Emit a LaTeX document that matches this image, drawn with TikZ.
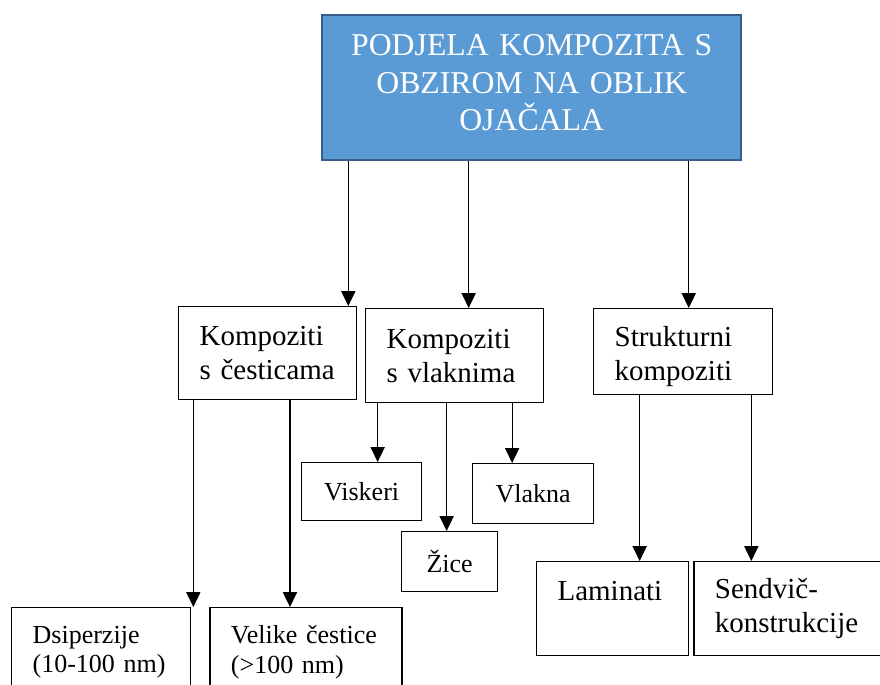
\documentclass[tikz,border=0pt]{standalone}
\usepackage{fontspec}
\setmainfont{Liberation Serif}
\usetikzlibrary{positioning,arrows.meta}
\definecolor{TitleBlue}{HTML}{5B9BD5}
\definecolor{TitleEdge}{HTML}{385D8A}

\begin{document}
\begin{tikzpicture}[
      x=0.025cm, y=-0.025cm,
      box/.style={draw=black, line width=0.9pt, fill=white, anchor=north west, inner xsep=0.525cm, inner ysep=2pt, align=left},
      bigbox/.style={box, font=\fontsize{20.6}{24.2}\selectfont},
      smallbox/.style={box, font=\fontsize{18.5}{21.3}\selectfont},
      titlebox/.style={draw=TitleEdge, line width=1.6pt, fill=TitleBlue, text=white, anchor=north west, inner xsep=0.3cm, align=center, font=\fontsize{22.6}{26.7}\selectfont},
      arrow/.style={line width=0.8pt, -{Triangle[length=10.5pt, width=10pt]}}
    ]
      \useasboundingbox (0,0) rectangle (880,684);

      \node[titlebox, text height=8pt, text width=9.875cm, minimum width=10.475cm, minimum height=3.625cm] (title) at (321,14) {PODJELA KOMPOZITA S\\OBZIROM NA OBLIK\\OJAČALA};

      \node[bigbox, text width=3.4cm, minimum width=4.45cm, minimum height=2.325cm] (cest) at (178,306) {Kompoziti\\s česticama};
      \node[bigbox, text width=3.4cm, minimum width=4.45cm, minimum height=2.35cm] (vlak) at (365,308) {Kompoziti\\s vlaknima};
      \node[bigbox, text height=21pt, text width=3.425cm, minimum width=4.475cm, minimum height=2.15cm] (strukt) at (593,308) {Strukturni\\kompoziti};

      \node[smallbox, align=center, text width=1.95cm, minimum width=3cm, minimum height=1.45cm] (visk) at (301,462) {Viskeri};
      \node[smallbox, align=center, text width=1.975cm, minimum width=3.025cm, minimum height=1.5cm] (vlakna) at (472,463) {Vlakna};
      \node[smallbox, align=center, text width=1.35cm, minimum width=2.4cm, minimum height=1.5cm] (zice) at (401,531) {Žice};

      \node[smallbox, text width=3.425cm, minimum width=4.475cm, minimum height=2.225cm] (dsip) at (11,607) {Dsiperzije\\(10-100 nm)};
      \node[smallbox, anchor=west, text width=3.75cm, minimum width=4.8cm, minimum height=2.225cm, right=0.45cm of dsip] (velike) {Velike čestice\\(>100 nm)};

      \node[bigbox, text depth=25pt, text width=2.75cm, minimum width=3.8cm, minimum height=2.35cm] (lamin) at (536,561) {Laminati};
      \node[bigbox, anchor=west, text width=4.45cm, minimum width=5.5cm, minimum height=2.35cm, right=0.1cm of lamin] (sendv) {Sendvič-\\konstrukcije};

      % arrows from the title
      \coordinate (t1) at ([xshift=-0.225cm]cest.north east);
      \coordinate (t2) at ([xshift=0.35cm]vlak.north);
      \coordinate (t3) at ([xshift=0.14cm]strukt.north);
      \draw[arrow] (t1 |- title.south) -- (t1);
      \draw[arrow] (t2 |- title.south) -- (t2);
      \draw[arrow] (t3 |- title.south) -- (t3);

      % arrows from the second row
      \coordinate (c1) at ([xshift=0.05cm]dsip.north east);
      \coordinate (c2) at ([xshift=-0.4cm]velike.north);
      \draw[arrow] (c1 |- cest.south) -- (c1);
      \draw[arrow] (c2 |- cest.south) -- (c2);

      \coordinate (v1) at ([xshift=0.4cm]visk.north);
      \coordinate (v2) at ([xshift=-0.075cm]zice.north);
      \coordinate (v3) at ([xshift=-0.525cm]vlakna.north);
      \draw[arrow] (v1 |- vlak.south) -- (v1);
      \draw[arrow] (v2 |- vlak.south) -- (v2);
      \draw[arrow] (v3 |- vlak.south) -- (v3);

      \coordinate (s1) at ([xshift=0.675cm]lamin.north);
      \coordinate (s2) at ([xshift=1.45cm]sendv.north west);
      \draw[arrow] (s1 |- strukt.south) -- (s1);
      \draw[arrow] (s2 |- strukt.south) -- (s2);

    \end{tikzpicture}
\end{document}
